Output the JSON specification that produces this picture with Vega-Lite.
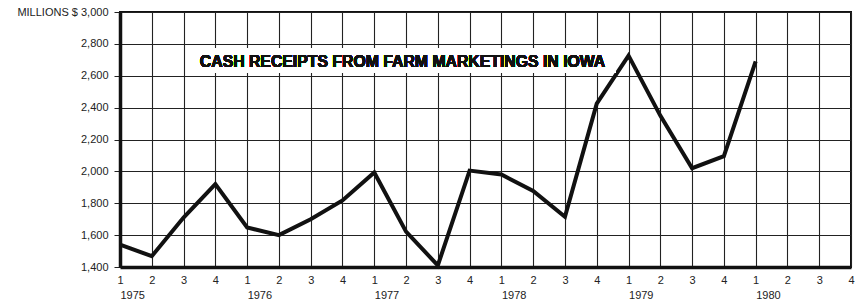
{
  "$schema": "https://vega.github.io/schema/vega-lite/v6.json",
  "width": 731,
  "height": 255,
  "autosize": {"type": "none"},
  "padding": {"left": 120, "top": 12, "right": 4, "bottom": 37},
  "background": "white",
  "config": {
    "font": "Liberation Sans",
    "view": {"stroke": "#111", "strokeWidth": 2},
    "axis": {"labelFont": "Liberation Sans", "labelFontSize": 11, "labelColor": "#222", "gridColor": "#222", "gridWidth": 1.1, "gridOpacity": 1, "domainColor": "#111", "domainWidth": 3.5, "tickColor": "#222", "title": null}
  },
  "datasets": {
    "receipts": [
      {"q": 0, "year": 1975, "quarter": 1, "value": 1540},
      {"q": 1, "year": 1975, "quarter": 2, "value": 1468},
      {"q": 2, "year": 1975, "quarter": 3, "value": 1710},
      {"q": 3, "year": 1975, "quarter": 4, "value": 1920},
      {"q": 4, "year": 1976, "quarter": 1, "value": 1648},
      {"q": 5, "year": 1976, "quarter": 2, "value": 1600},
      {"q": 6, "year": 1976, "quarter": 3, "value": 1700},
      {"q": 7, "year": 1976, "quarter": 4, "value": 1818},
      {"q": 8, "year": 1977, "quarter": 1, "value": 1993},
      {"q": 9, "year": 1977, "quarter": 2, "value": 1622},
      {"q": 10, "year": 1977, "quarter": 3, "value": 1410},
      {"q": 11, "year": 1977, "quarter": 4, "value": 2005},
      {"q": 12, "year": 1978, "quarter": 1, "value": 1980},
      {"q": 13, "year": 1978, "quarter": 2, "value": 1877},
      {"q": 14, "year": 1978, "quarter": 3, "value": 1715},
      {"q": 15, "year": 1978, "quarter": 4, "value": 2425},
      {"q": 16, "year": 1979, "quarter": 1, "value": 2726},
      {"q": 17, "year": 1979, "quarter": 2, "value": 2350},
      {"q": 18, "year": 1979, "quarter": 3, "value": 2020},
      {"q": 19, "year": 1979, "quarter": 4, "value": 2095},
      {"q": 20, "year": 1980, "quarter": 1, "value": 2690}
    ]
  },
  "data": {"name": "receipts"},
  "resolve": {"axis": {"x": "independent", "y": "independent"}},
  "layer": [
    {
      "mark": {"type": "line", "color": "#111", "strokeWidth": 4, "strokeJoin": "miter"},
      "encoding": {
        "x": {"field": "q", "type": "quantitative",
          "scale": {"domain": [0, 23], "nice": false, "zero": false},
          "axis": {"orient": "bottom", "values": [0,1,2,3,4,5,6,7,8,9,10,11,12,13,14,15,16,17,18,19,20,21,22,23],
            "labelExpr": "'' + (datum.value % 4 + 1)", "grid": true, "ticks": false, "labelPadding": 7, "labelFlush": false, "labelOverlap": false}},
        "y": {"field": "value", "type": "quantitative",
          "scale": {"domain": [1400, 3000], "nice": false, "zero": false},
          "axis": {"orient": "left", "values": [1400,1600,1800,2000,2200,2400,2600,2800,3000], "grid": true, "tickSize": 6, "labelPadding": 6, "labelFlush": false, "labelOverlap": false,
            "labelExpr": "datum.value == 3000 ? 'MILLIONS $ 3,000' : format(datum.value, ',')"}}
      }
    },
    {
      "mark": {"type": "point", "opacity": 0},
      "encoding": {
        "x": {"field": "q", "type": "quantitative",
          "axis": {"orient": "bottom", "values": [0,4,8,12,16,20], "labelExpr": "'' + (1975 + datum.value / 4)",
            "grid": false, "ticks": false, "domain": false, "labelAlign": "left", "labelPadding": 22, "labelFlush": false, "labelOverlap": false}},
        "y": {"field": "value", "type": "quantitative", "axis": null}
      }
    },
    {
      "mark": {"type": "rect", "color": "white", "opacity": 1},
      "encoding": {
        "x": {"datum": 2.08, "type": "quantitative", "axis": null},
        "x2": {"datum": 15.6},
        "y": {"datum": 2774, "type": "quantitative", "axis": null},
        "y2": {"datum": 2617}
      }
    },
    {
      "mark": {"type": "text", "text": "CASH RECEIPTS FROM FARM MARKETINGS IN IOWA", "font": "Liberation Sans", "fontWeight": "bold", "fontSize": 15.8, "color": "#111", "align": "center", "baseline": "middle"},
      "encoding": {
        "x": {"datum": 8.89, "type": "quantitative", "axis": null},
        "y": {"datum": 2688, "type": "quantitative", "axis": null}
      }
    }
  ]
}
